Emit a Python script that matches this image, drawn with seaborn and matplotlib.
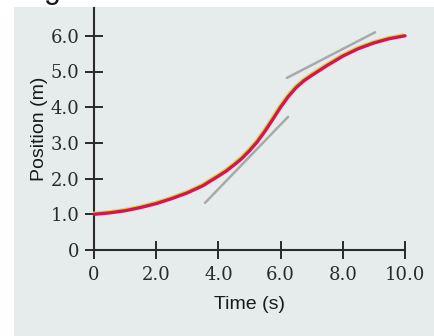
import matplotlib
matplotlib.use("Agg")
import matplotlib.pyplot as plt
import matplotlib.patches as mpatches
import matplotlib.transforms as mtransforms
import seaborn as sns
import pandas as pd

# ---- data ----
time_s = [0, 0.5, 1, 1.5, 2, 2.5, 3, 3.5, 4, 4.25, 4.5, 4.75, 5, 5.25, 5.5, 5.75, 6,
          6.25, 6.5, 6.75, 7, 7.25, 7.5, 8, 8.5, 9, 9.5, 10]
position_m = [1.0, 1.04, 1.10, 1.19, 1.30, 1.44, 1.60, 1.80, 2.07, 2.21, 2.38, 2.56, 2.78,
              3.03, 3.33, 3.66, 4.0, 4.30, 4.55, 4.74, 4.89, 5.03, 5.17, 5.43, 5.64, 5.80,
              5.92, 6.0]
tangent1_t = [3.57, 6.24]
tangent1_x = [1.32, 3.73]
tangent2_t = [6.2, 9.04]
tangent2_x = [4.82, 6.1]
x_ticks = [0, 2, 4, 6, 8, 10]
x_tick_labels = ["0", "2.0", "4.0", "6.0", "8.0", "10.0"]
y_ticks = [0, 1, 2, 3, 4, 5, 6]
y_tick_labels = ["0", "1.0", "2.0", "3.0", "4.0", "5.0", "6.0"]

df = pd.DataFrame({"t": time_s, "x": position_m})
t1 = pd.DataFrame({"t": tangent1_t, "x": tangent1_x})
t2 = pd.DataFrame({"t": tangent2_t, "x": tangent2_x})

sns.set_theme(style="ticks")
plt.rcParams["font.family"] = ["Liberation Sans", "DejaVu Sans"]

W, H = 435, 336
fig = plt.figure(figsize=(W / 100, H / 100), dpi=100)
fig.patch.set_facecolor("white")

# photo-like background
bg = mpatches.Rectangle((14 / W, 0), 1 - 14 / W, (H - 7) / H, transform=fig.transFigure,
                        facecolor="#e6ecec", edgecolor="none", zorder=0)
fig.add_artist(bg)
fig.text(52 / W, 1 + 1.5 / H, "g", fontsize=22, color="#1a1a1a", ha="center", va="baseline")

ax = fig.add_axes([94 / W, (H - 250) / H, (405 - 94) / W, (250 - 8) / H])
ax.set_facecolor("none")

sns.lineplot(data=t1, x="t", y="x", ax=ax, color="#a9a9a9", linewidth=1.8, zorder=2)
sns.lineplot(data=t2, x="t", y="x", ax=ax, color="#a9a9a9", linewidth=1.8, zorder=2)

off_y = mtransforms.offset_copy(ax.transData, fig=fig, x=-0.9, y=1.0, units="dots")
ax.plot(df["t"], df["x"], color="#f2c94a", linewidth=2.4, transform=off_y, zorder=3,
        clip_on=False, solid_capstyle="butt", solid_joinstyle="round")
sns.lineplot(data=df, x="t", y="x", ax=ax, color="#d0174f", linewidth=2.4, zorder=4)
for ln in ax.get_lines():
    ln.set_clip_on(False)
    ln.set_solid_joinstyle("round")

ax.set_xlim(0, 10)
ax.set_ylim(0, (250 - 8) / 35.7)
ax.set_xticks(x_ticks)
ax.set_xticklabels(x_tick_labels)
ax.set_yticks(y_ticks)
ax.set_yticklabels(y_tick_labels)
for lab in ax.get_xticklabels() + ax.get_yticklabels():
    lab.set_fontfamily(["DejaVu Serif", "Liberation Serif"])
    lab.set_fontsize(13)
    lab.set_color("#2a2a2a")

ax.tick_params(axis="both", direction="inout", length=13, width=1.4, color="#2a2a2a")
ax.tick_params(axis="x", pad=5)
ax.tick_params(axis="y", pad=4)
for s in ["top", "right"]:
    ax.spines[s].set_visible(False)
for s in ["left", "bottom"]:
    ax.spines[s].set_color("#2a2a2a")
    ax.spines[s].set_linewidth(1.5)

ax.set_xlabel("Time (s)", fontsize=14, color="#1a1a1a", labelpad=9)
ax.set_ylabel("Position (m)", fontsize=14, color="#1a1a1a", labelpad=2)

fig.savefig("out.png", dpi=100)
